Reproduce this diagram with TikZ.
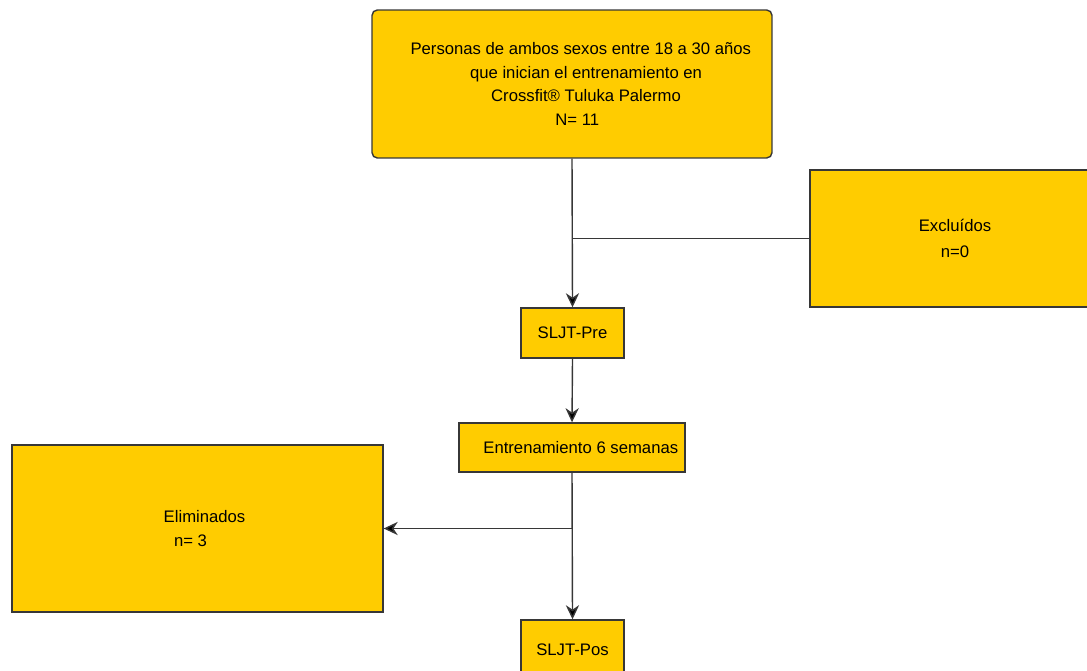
\documentclass[tikz,border=0pt]{standalone}
\usepackage{fontspec}
\setmainfont{Liberation Sans}
\usepackage{tikz}
\usetikzlibrary{arrows.meta,positioning,calc}
\definecolor{boxgold}{RGB}{255,204,0}
\definecolor{edgegray}{RGB}{55,55,55}
\tikzset{
    flowbox/.style={draw=edgegray,fill=boxgold,thick,align=center,inner sep=0pt,
        font=\fontsize{9.5}{13.6}\selectfont},
    flowline/.style={draw=edgegray,thick},
    flowarrow/.style={flowline,-{Stealth[length=8pt,width=7.5pt,inset=2.5pt,fill=black]}}
}

\begin{document}
\begin{tikzpicture}[x=0.02cm,y=-0.02cm]
    % picture frame, same size as the reference
    \useasboundingbox (0,0) rectangle (1087,671);
    \clip (0,0) rectangle (1087,671);

    % main column
    \node[flowbox,rounded corners=3pt,minimum width=8cm,minimum height=2.96cm] (inicio) at (572,84)
        {\hspace*{10pt}Personas de ambos sexos entre 18 a 30 años\\
         \hspace*{16pt}que inician el entrenamiento en\\
         \hspace*{16pt}Crossfit® Tuluka Palermo\\
         \hspace*{6pt}N= 11};
    \node[flowbox,minimum width=2.06cm,minimum height=1cm] (pre) at (572.5,333) {SLJT-Pre};
    \node[flowbox,minimum width=4.52cm,minimum height=0.98cm] (entreno) at (572,447.5)
        {\hspace*{10pt}Entrenamiento 6 semanas};
    \node[flowbox,minimum width=2.06cm,minimum height=1.2cm] (pos) at (572.5,650) {SLJT-Pos};

    % side boxes
    \node[flowbox,minimum width=5.8cm,minimum height=2.74cm,
        font=\fontsize{9.5}{14.7}\selectfont] (excluidos) at (955,238.5) {Excluídos\\n=0};
    \node[flowbox,minimum width=7.42cm,minimum height=3.34cm] (eliminados) at (197.5,528.5)
        {\hspace*{8pt}Eliminados\\n= 3\hspace*{8pt}};

    % branch points
    \coordinate (split1) at (inicio.south |- excluidos.west);
    \coordinate (split2) at (entreno.south |- eliminados.east);

    % connectors
    \draw[flowarrow] (inicio.south) -- (pre.north);
    \draw[flowline] (split1) -- (excluidos.west);
    \draw[flowarrow] (pre.south) -- (entreno.north);
    \draw[flowarrow] (entreno.south) -- (pos.north);
    \draw[flowarrow] (split2) -- (eliminados.east);
\end{tikzpicture}
\end{document}
